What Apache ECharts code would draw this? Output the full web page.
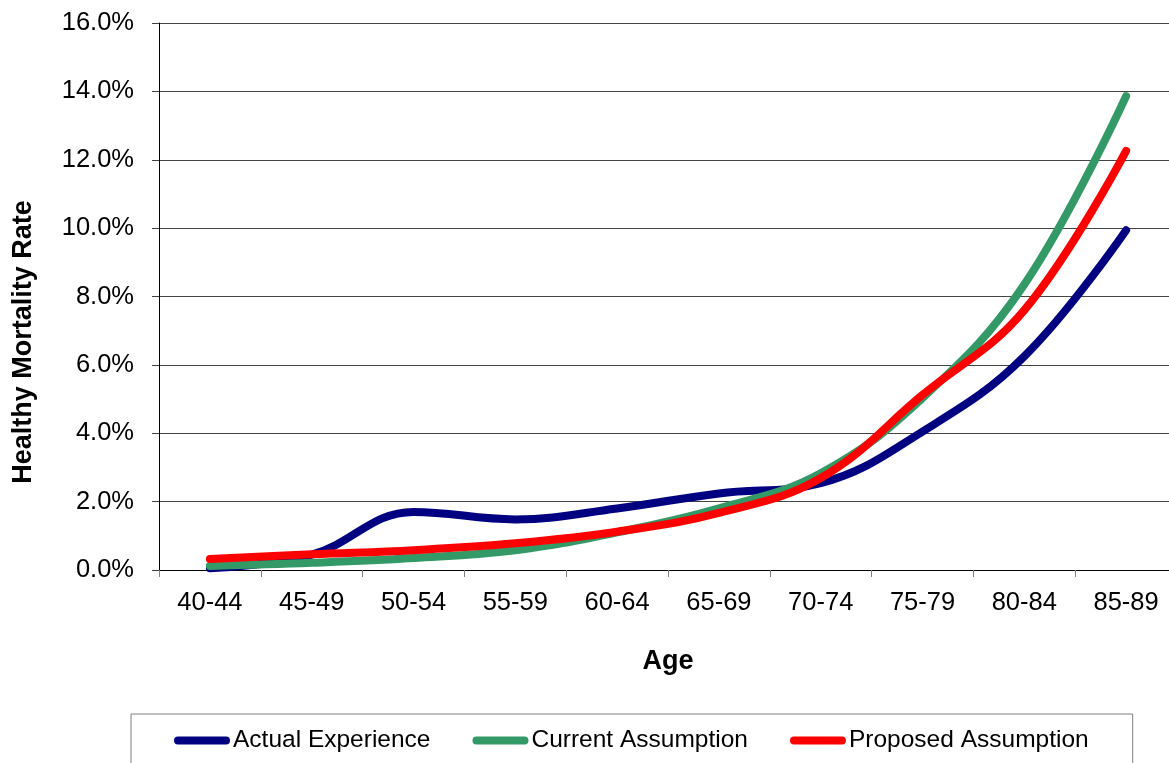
<!DOCTYPE html>
<html>
<head>
<meta charset="utf-8">
<script src="https://cdn.jsdelivr.net/npm/echarts@6/dist/echarts.min.js"></script>
<style>
html,body{margin:0;padding:0;background:#fff;overflow:hidden;}
#chart{width:1190px;height:763px;}
</style>
</head>
<body>
<div id="chart"></div>
<script>
const categories = ['40-44','45-49','50-54','55-59','60-64','65-69','70-74','75-79','80-84','85-89'];
const actualExperience = [0.05, 0.45, 1.70, 1.48, 1.80, 2.24, 2.54, 4.05, 6.25, 9.94];
const currentAssumption = [0.12, 0.21, 0.35, 0.58, 1.10, 1.80, 2.83, 5.03, 8.35, 13.86];
const proposedAssumption = [0.32, 0.46, 0.58, 0.78, 1.12, 1.67, 2.69, 5.12, 7.60, 12.26];
const seriesNames = ['Actual Experience','Current Assumption','Proposed Assumption'];
const yTicks = {min: 0, max: 16, interval: 2};

const font = '"Liberation Sans", Arial, sans-serif';
const colors = ['#000080', '#339966', '#FF0000'];
const capsule = 'path://M4,0 L52,0 A4,4 0 0 1 52,8 L4,8 A4,4 0 0 1 4,0 Z';

const chart = echarts.init(document.getElementById('chart'), null, {renderer: 'canvas'});
const mk = (name, data, color) => ({
  name: name,
  type: 'line',
  data: data,
  smooth: 0.4,
  symbol: 'none',
  showSymbol: false,
  lineStyle: {color: color, width: 8, cap: 'round', join: 'round'},
  itemStyle: {color: color},
  animation: false
});

chart.setOption({
  backgroundColor: '#ffffff',
  animation: false,
  textStyle: {fontFamily: font},
  grid: {left: 159, top: 23, height: 547, width: 1018, containLabel: false},
  xAxis: {
    type: 'category',
    data: categories,
    boundaryGap: true,
    name: 'Age',
    nameLocation: 'middle',
    nameGap: 78,
    nameTextStyle: {fontFamily: font, fontSize: 27, fontWeight: 'bold', color: '#000'},
    axisLine: {show: true, lineStyle: {color: '#000', width: 1}},
    axisTick: {show: true, length: 7, alignWithLabel: false, lineStyle: {color: '#808080'}},
    axisLabel: {fontFamily: font, fontSize: 25.5, color: '#000', margin: 20},
    splitLine: {show: false}
  },
  yAxis: {
    type: 'value',
    min: yTicks.min,
    max: yTicks.max,
    interval: yTicks.interval,
    axisLine: {show: true, lineStyle: {color: '#000', width: 1}},
    axisTick: {show: true, length: 7, lineStyle: {color: '#404040'}},
    axisLabel: {fontFamily: font, fontSize: 25.5, color: '#000', margin: 25,
      formatter: v => v.toFixed(1) + '%'},
    splitLine: {show: true, lineStyle: {color: '#444', width: 1}}
  },
  legend: {
    data: seriesNames.map(n => ({name: n, icon: capsule})),
    left: 131,
    top: 714,
    orient: 'horizontal',
    itemWidth: 56,
    itemHeight: 8,
    itemGap: 42,
    padding: [14, 44, 60, 43],
    borderColor: '#808080',
    borderWidth: 1,
    textStyle: {fontFamily: font, fontSize: 24.5, color: '#000', padding: [0, 0, 0, -2]},
    selectedMode: false
  },
  graphic: [{
    type: 'text',
    x: 24,
    y: 342,
    rotation: Math.PI / 2,
    style: {text: 'Healthy Mortality Rate', font: 'bold 27px ' + font, fill: '#000',
      textAlign: 'center', textVerticalAlign: 'middle'}
  }],
  series: [
    mk(seriesNames[0], actualExperience, colors[0]),
    mk(seriesNames[1], currentAssumption, colors[1]),
    mk(seriesNames[2], proposedAssumption, colors[2])
  ]
});
</script>
</body>
</html>
